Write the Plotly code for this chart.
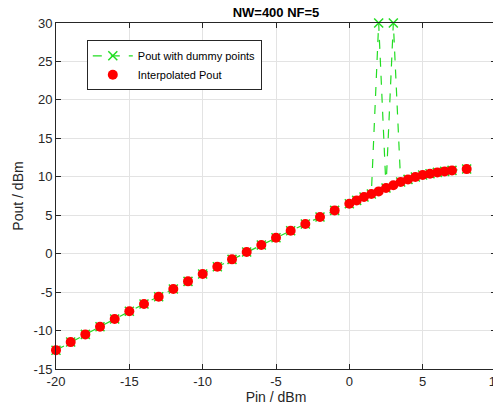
import plotly.graph_objects as go

# input power sweep (dBm)
pin = [-20, -19, -18, -17, -16, -15, -14, -13, -12, -11, -10, -9, -8, -7, -6, -5, -4, -3, -2, -1,
       0, 0.5, 1, 1.5, 2, 2.5, 3, 3.5, 4, 4.5, 5, 5.5, 6, 6.5, 7, 8]

# interpolated output power (dBm)
pout_interp = [-12.55, -11.5, -10.5, -9.5, -8.5, -7.5, -6.55, -5.6, -4.6, -3.6, -2.65, -1.7, -0.74, 0.22,
               1.13, 2.08, 2.99, 3.86, 4.77, 5.63,
               6.5, 6.93, 7.37, 7.76, 8.1, 8.54, 8.89, 9.32, 9.66, 9.97, 10.23, 10.4, 10.57, 10.7, 10.83, 11.0]

# same curve, with the two dummy points at 2 and 3 dBm
pout_dummy = list(pout_interp)
pout_dummy[pin.index(2)] = 30
pout_dummy[pin.index(3)] = 30

x_ticks = [-20, -15, -10, -5, 0, 5, 10]
y_ticks = [-15, -10, -5, 0, 5, 10, 15, 20, 25, 30]

fig = go.Figure()

fig.add_trace(go.Scatter(
    x=pin, y=pout_dummy,
    mode='lines+markers',
    name='Pout with dummy points',
    line=dict(color='#22dd22', width=1.2, dash='dash'),
    marker=dict(symbol='x-thin', size=9, line=dict(color='#22dd22', width=1.5)),
    cliponaxis=False
))

fig.add_trace(go.Scatter(
    x=pin, y=pout_interp,
    mode='markers',
    name='Interpolated Pout',
    marker=dict(symbol='circle', size=10, color='#ff0000'),
    cliponaxis=False
))

axis_style = dict(
    showgrid=True, gridcolor='#e3e3e3', gridwidth=1,
    zeroline=False, automargin=False,
    showline=True, linecolor='#262626', linewidth=1, mirror='ticks',
    ticks='inside', ticklen=5, tickcolor='#262626',
    ticklabeloverflow='allow',
    tickfont=dict(family='Liberation Sans, Arial', size=13, color='#262626'),
)

# the page body adds an 8px offset, so the figure is sized to what is left of the window
fig.update_layout(
    width=493, height=405,
    margin=dict(l=48, r=5, t=15, b=44),
    paper_bgcolor='white', plot_bgcolor='white',
    title=dict(text='<b>NW=400 NF=5</b>', x=268 / 493, xanchor='center', y=1, yanchor='top',
               pad=dict(t=0),
               font=dict(family='Liberation Sans, Arial', size=13, color='black')),
    xaxis=dict(range=[-20, 10], tickvals=x_ticks, ticktext=[str(t) for t in x_ticks],
               title=dict(text='Pin / dBm', standoff=4,
                          font=dict(family='Liberation Sans, Arial', size=14, color='#262626')),
               **axis_style),
    yaxis=dict(range=[-15, 30], tickvals=y_ticks, ticktext=[str(t) for t in y_ticks],
               title=dict(text='Pout / dBm', standoff=6,
                          font=dict(family='Liberation Sans, Arial', size=14, color='#262626')),
               **axis_style),
    legend=dict(x=0.07, y=0.95, xanchor='left', yanchor='top',
                bgcolor='white', bordercolor='#262626', borderwidth=1,
                font=dict(family='Liberation Sans, Arial', size=11, color='black'),
                itemwidth=40, tracegroupgap=0),
    showlegend=True,
)

fig.write_html("out.html")
